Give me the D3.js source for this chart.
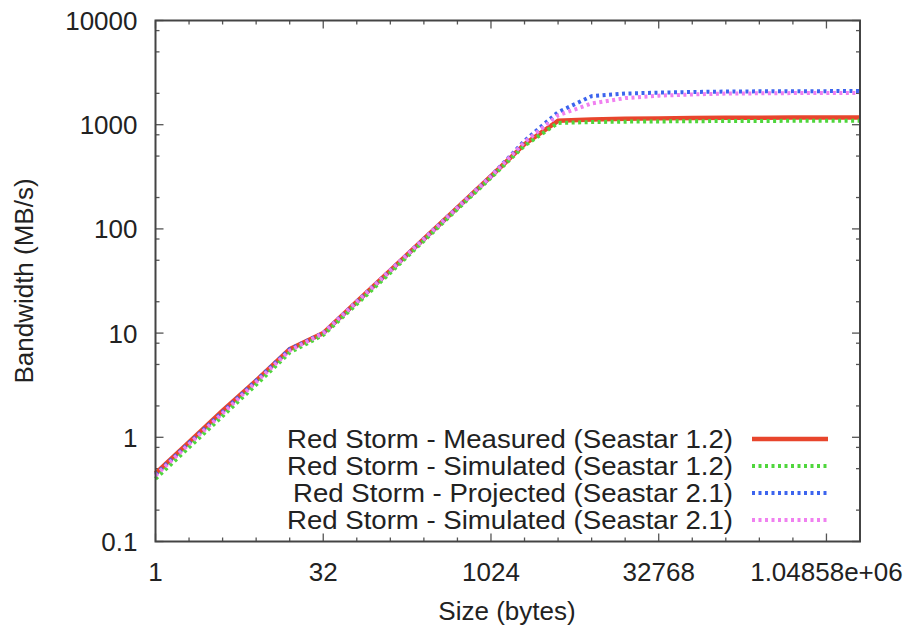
<!DOCTYPE html>
<html>
<head>
<meta charset="utf-8">
<script src="https://cdn.jsdelivr.net/npm/d3@7"></script>
<style>
  body { margin: 0; background: #fff; }
  text { font-family: "Liberation Sans", Arial, Helvetica, sans-serif; fill: #222; }
</style>
</head>
<body>
<script>
const tamanhos = [1, 2, 4, 8, 16, 32, 64, 128, 256, 512, 1024, 2048, 4096, 8192,
  16384, 32768, 65536, 131072, 262144, 524288, 1048576, 2097152]

const medido12 = [0.45, 0.9, 1.8, 3.5, 7.0, 10, 20, 40, 80, 160, 320, 650, 1090,
  1120, 1140, 1150, 1160, 1165, 1165, 1170, 1170, 1170]
const simulado12 = [0.40, 0.8, 1.6, 3.2, 6.5, 9.6, 19, 38, 77, 155, 310, 630, 1040,
  1060, 1070, 1075, 1080, 1085, 1085, 1090, 1090, 1090]
const projetado21 = [0.44, 0.88, 1.75, 3.5, 7.0, 10, 20, 40, 80, 160, 320, 700, 1320,
  1880, 1990, 2030, 2060, 2080, 2090, 2100, 2100, 2110]
const simulado21 = [0.43, 0.86, 1.7, 3.4, 6.8, 10, 20, 40, 80, 160, 320, 680, 1230,
  1600, 1800, 1900, 1950, 1990, 2000, 2010, 2015, 2020]

const nomes = ['Red Storm - Measured (Seastar 1.2)', 'Red Storm - Simulated (Seastar 1.2)',
  'Red Storm - Projected (Seastar 2.1)', 'Red Storm - Simulated (Seastar 2.1)']

const xTicksMaiores = [1, 32, 1024, 32768, 1048576]
const xRotulos = ['1', '32', '1024', '32768', '1.04858e+06']
const yTicksMaiores = [0.1, 1, 10, 100, 1000, 10000]
const yRotulos = ['0.1', '1', '10', '100', '1000', '10000']

const cores = ['#e8452c', '#4fd63c', '#3c64ee', '#f080f0']
const tracos = [null, '3,3.5', '3,3.5', '3,3.5']

const W = 909, H = 627
const margem = {topo: 20.5, direita: 49, base: 85.5, esquerda: 155.5}
const largura = W - margem.esquerda - margem.direita
const altura = H - margem.topo - margem.base

var svg = d3.select('body').append('svg')
  .attr('width', W).attr('height', H)

var g = svg.append('g')
  .attr('transform', 'translate(' + margem.esquerda + ',' + margem.topo + ')')

var x = d3.scaleLog().base(2).domain([1, 2097152]).range([0, largura])
var y = d3.scaleLog().domain([0.1, 10000]).range([altura, 0])

// minor ticks: every power of two on x, 2/5/8 per decade on y
var xMenores = tamanhos.filter(function (t) { return xTicksMaiores.indexOf(t) < 0 && t < 2097152 })
var yMenores = []
yTicksMaiores.slice(0, -1).forEach(function (d) {
  [2, 5, 8].forEach(function (m) { yMenores.push(d * m) })
})

var ticks = g.append('g').attr('stroke', '#555').attr('stroke-width', 1.3)
function ticksX (vals, len) {
  vals.forEach(function (v) {
    ticks.append('line').attr('x1', x(v)).attr('x2', x(v)).attr('y1', altura).attr('y2', altura - len)
    ticks.append('line').attr('x1', x(v)).attr('x2', x(v)).attr('y1', 0).attr('y2', len)
  })
}
function ticksY (vals, len) {
  vals.forEach(function (v) {
    ticks.append('line').attr('y1', y(v)).attr('y2', y(v)).attr('x1', 0).attr('x2', len)
    ticks.append('line').attr('y1', y(v)).attr('y2', y(v)).attr('x1', largura).attr('x2', largura - len)
  })
}
ticksX(xTicksMaiores, 8)
ticksX(xMenores, 4)
ticksY(yTicksMaiores, 8)
ticksY(yMenores, 4)

var linha = d3.line()
  .x(function (d) { return x(d[0]) })
  .y(function (d) { return y(d[1]) })

var series = [medido12, simulado12, projetado21, simulado21]
series.forEach(function (s, i) {
  var pontos = tamanhos.map(function (t, k) { return [t, s[k]] })
  g.append('path')
    .attr('d', linha(pontos))
    .attr('fill', 'none')
    .attr('stroke', cores[i])
    .attr('stroke-width', i === 0 ? 4.5 : 4)
    .attr('stroke-dasharray', tracos[i])
})

// frame
g.append('rect')
  .attr('width', largura).attr('height', altura)
  .attr('fill', 'none').attr('stroke', '#444').attr('stroke-width', 2)

// tick labels
g.selectAll('.xl').data(xTicksMaiores).enter().append('text')
  .attr('x', function (d) { return x(d) })
  .attr('y', altura + 39)
  .attr('text-anchor', 'middle')
  .attr('font-size', 26)
  .text(function (d, i) { return xRotulos[i] })

g.selectAll('.yl').data(yTicksMaiores).enter().append('text')
  .attr('x', -18)
  .attr('y', function (d) { return y(d) + 9.5 })
  .attr('text-anchor', 'end')
  .attr('font-size', 26)
  .text(function (d, i) { return yRotulos[i] })

// axis titles
svg.append('text')
  .attr('x', 507)
  .attr('y', 620)
  .attr('text-anchor', 'middle')
  .attr('font-size', 26)
  .text('Size (bytes)')

svg.append('text')
  .attr('transform', 'translate(33,' + (margem.topo + altura / 2) + ') rotate(-90)')
  .attr('text-anchor', 'middle')
  .attr('font-size', 26)
  .text('Bandwidth (MB/s)')

// legend, stretched a bit wider like the original
var leg = svg.append('g')
var textos = []
nomes.forEach(function (n, i) {
  var cy = 439 + i * 27
  textos.push(leg.append('text')
    .attr('x', 733).attr('y', cy + 9)
    .attr('text-anchor', 'end')
    .attr('font-size', 25)
    .text(n))
  leg.append('line')
    .attr('x1', 752).attr('x2', 828).attr('y1', cy).attr('y2', cy)
    .attr('stroke', cores[i])
    .attr('stroke-width', i === 0 ? 4.5 : 4)
    .attr('stroke-dasharray', tracos[i])
})
var fator = 446 / textos[0].node().getComputedTextLength()
textos.forEach(function (t) {
  t.attr('textLength', t.node().getComputedTextLength() * fator)
   .attr('lengthAdjust', 'spacingAndGlyphs')
})
</script>
</body>
</html>
